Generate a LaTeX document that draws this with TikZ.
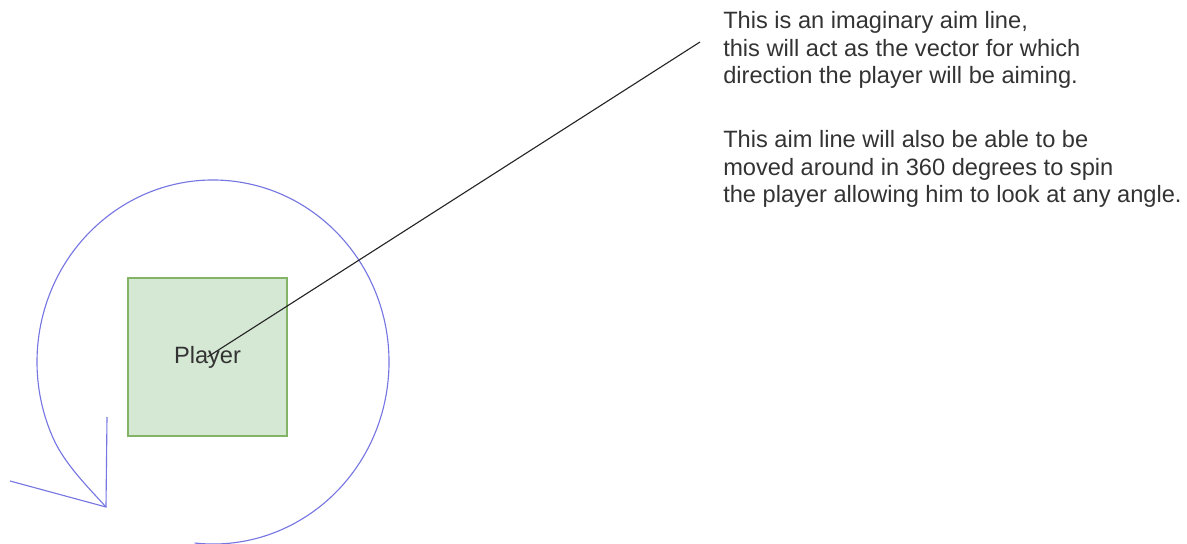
\documentclass[tikz,border=0pt]{standalone}
\usepackage{fontspec}
\setmainfont{Liberation Sans}
\definecolor{boxfill}{HTML}{D5E8D4}
\definecolor{boxline}{HTML}{82B366}
\definecolor{spin}{RGB}{118,118,226}
\definecolor{txt}{HTML}{333333}
\tikzset{
  playerbox/.style={draw=boxline, fill=boxfill, line width=0.9pt, minimum width=159*0.025cm, minimum height=158*0.025cm, inner sep=0pt, text=txt, font=\fontsize{16.8}{20}\selectfont},
  note/.style={align=left, inner sep=0pt, anchor=base west, text=txt, font=\fontsize{16.8}{19.9}\selectfont},
  spinline/.style={draw=spin, line width=0.8pt}
}
\begin{document}
\begin{tikzpicture}[x=0.025cm, y=-0.025cm]
  \path[use as bounding box, clip] (0,0) rectangle (1187,544);
  \coordinate (spinCenter) at (213,362);
  \coordinate (tip) at (106,507);
  \coordinate (headUp) at (107,417);
  \coordinate (headLeft) at (10,481);
  \draw[spinline] ([shift={(96:176 and 182)}]spinCenter) arc[start angle=96, end angle=-205, x radius=176, y radius=182]
    .. controls (65,464) and (86,485) .. (tip);
  \draw[spinline] (headUp) -- (tip) -- (headLeft);
  \node[playerbox] (player) at (207.5,357) {Player};
  \coordinate (aimEnd) at (700,42);
  \draw[black!85, line width=0.8pt] (player.center) -- (aimEnd);
  \node[note] (aimNote) at (723,84) {This is an imaginary aim line,\\this will act as the vector for which\\direction the player will be aiming.};
  \node[note] (spinNote) at (723,203) {This aim line will also be able to be\\moved around in 360 degrees to spin\\the player allowing him to look at any angle.};
\end{tikzpicture}
\end{document}
